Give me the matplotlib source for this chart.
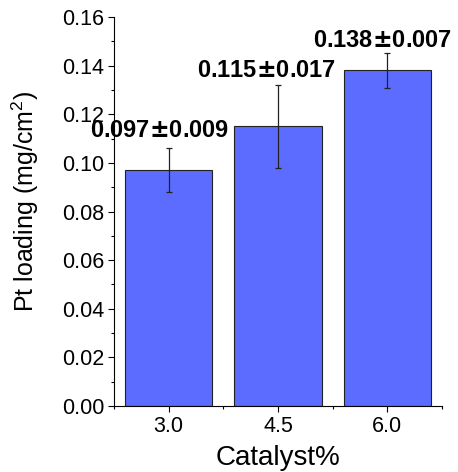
import matplotlib
matplotlib.use('agg')
import matplotlib.pyplot as plt  # noqa: E402
from matplotlib.ticker import MultipleLocator, FormatStrFormatter  # noqa: E402

plt.rcParams['font.family'] = ['Liberation Sans', 'DejaVu Sans']
# bold, wide plus-minus sign like the original
plt.rcParams['mathtext.fontset'] = 'custom'
plt.rcParams['mathtext.rm'] = 'DejaVu Sans:bold'

catalyst = [3.0, 4.5, 6.0]
loading = [0.097, 0.115, 0.138]
err = [0.009, 0.017, 0.007]
tick_labels = ['3.0', '4.5', '6.0']

fig = plt.figure(figsize=(4.58, 4.72), dpi=100)
ax = fig.add_axes([114 / 458, (472 - 406) / 472, (442 - 114) / 458, (406 - 17) / 472])

ax.bar(catalyst, loading, width=1.2, color='#5c6cff', edgecolor='#222222', linewidth=0.8,
       yerr=err, error_kw=dict(ecolor='#222222', elinewidth=0.9, capsize=2.5, capthick=0.9))

# label offsets in points (dx, dy) from the top of each error bar
offsets = [(-6.5, 8), (-8, 5.8), (-3.6, 4.7)]
for x, y, e, (dx, dy) in zip(catalyst, loading, err, offsets):
    ax.annotate('%.3f$\\pm$%.3f' % (y, e), xy=(x, y + e), xytext=(dx, dy),
                textcoords='offset points', ha='center', va='baseline',
                fontsize=17, fontweight='bold', annotation_clip=False)

ax.set_xlim(2.25, 6.75)
ax.set_ylim(0, 0.16)
ax.set_xticks(catalyst)
ax.set_xticklabels(tick_labels)
ax.xaxis.set_minor_locator(MultipleLocator(0.75))
ax.yaxis.set_major_locator(MultipleLocator(0.02))
ax.yaxis.set_minor_locator(MultipleLocator(0.01))
ax.yaxis.set_major_formatter(FormatStrFormatter('%.2f'))
ax.spines['top'].set_visible(False)
ax.spines['right'].set_visible(False)
ax.tick_params(which='major', direction='out', length=4, width=0.8, labelsize=15.5, pad=3)
ax.tick_params(which='minor', direction='out', length=2.5, width=0.8)
ax.set_xlabel('Catalyst%', fontsize=20)
ax.set_ylabel('Pt loading (mg/cm$^{\\mathregular{2}}$)', fontsize=18)
ax.xaxis.set_label_coords(0.5, -0.1)
ax.yaxis.set_label_coords(-0.222, 0.527)

plt.savefig('out.png', dpi=100)
